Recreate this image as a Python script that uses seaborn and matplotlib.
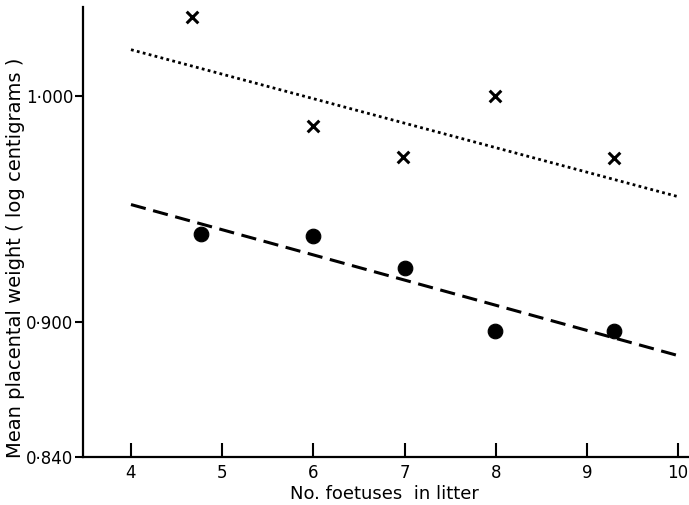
import numpy as np
import pandas as pd
import seaborn as sns
import matplotlib.pyplot as plt

# Значения
litter_x = [4.67, 6.0, 6.98, 7.99, 9.3]
weight_cross = [1.035, 0.9867, 0.973, 1.000, 0.9726]
litter_dot = [4.77, 6.0, 7.0, 7.99, 9.3]
weight_dot = [0.939, 0.9382, 0.9239, 0.896, 0.8957]

# Линии регрессии (концы)
fit_x = [4, 10]
fit_cross = [1.0207, 0.9555]
fit_dot = [0.952, 0.885]

x_ticks = [4, 5, 6, 7, 8, 9, 10]
y_ticks = [0.840, 0.900, 1.000]
y_tick_labels = ["0·840", "0·900", "1·000"]

sns.set_style("white")
plt.rcParams['font.family'] = ['DejaVu Sans']

fig = plt.figure(figsize=(6.89, 5.05), dpi=100)
ax = fig.add_axes([0.1205, 0.095, 0.8795, 0.891])

lines = pd.DataFrame({"x": fit_x, "upper": fit_cross, "lower": fit_dot})
sns.lineplot(data=lines, x="x", y="upper", ax=ax, color="black",
             linestyle=(0, (1, 1.2)), linewidth=2.0)
sns.lineplot(data=lines, x="x", y="lower", ax=ax, color="black",
             linestyle=(0, (5, 2.5)), linewidth=2.2)

sns.scatterplot(x=litter_x, y=weight_cross, ax=ax, marker="x", s=70,
                color="black", linewidth=2.2)
sns.scatterplot(x=litter_dot, y=weight_dot, ax=ax, marker="o", s=110,
                color="black", edgecolor="black")

ax.set_xlim(3.474, 10.12)
ax.set_ylim(0.840, 1.0396)
ax.set_xticks(x_ticks)
ax.set_xticklabels([str(t) for t in x_ticks])
ax.set_yticks(y_ticks)
ax.set_yticklabels(y_tick_labels)
ax.tick_params(axis="x", bottom=True, direction="in", length=10, width=1.5,
               labelsize=12, pad=5, colors="black")
ax.tick_params(axis="y", left=True, direction="out", length=6, width=1.5,
               labelsize=12, pad=1, colors="black")

for side in ["top", "right"]:
    ax.spines[side].set_visible(False)
for side in ["left", "bottom"]:
    ax.spines[side].set_linewidth(1.6)
    ax.spines[side].set_color("black")

ax.set_xlabel("No. foetuses  in litter", fontsize=13, color="black")
ax.set_ylabel("Mean placental weight ( log centigrams )", fontsize=14, color="black")
ax.xaxis.set_label_coords(0.497, -0.062)
ax.yaxis.set_label_coords(-0.096, 0.442)

fig.savefig("out.png", dpi=100)
